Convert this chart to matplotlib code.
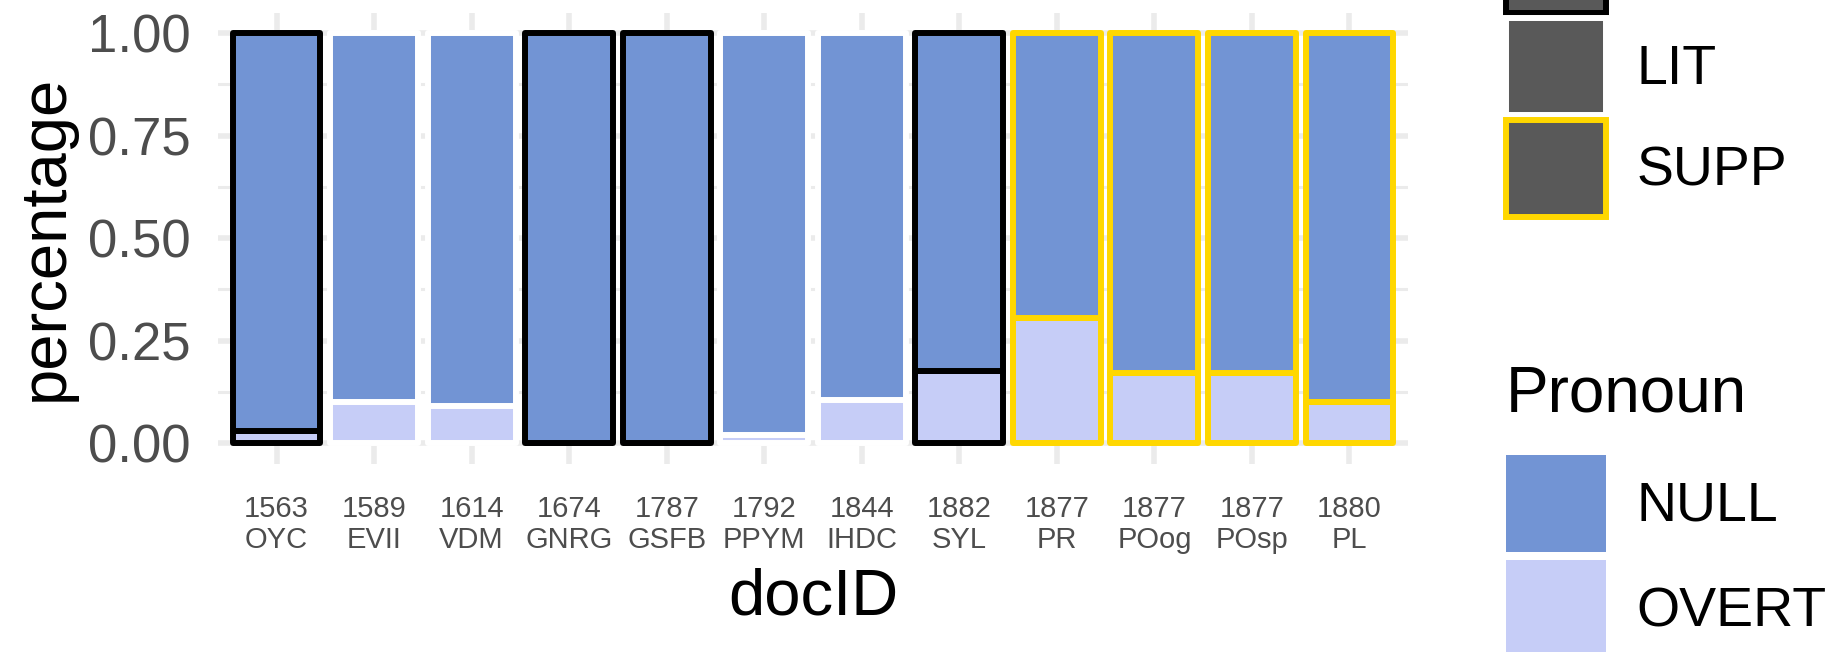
import numpy as np
import matplotlib
matplotlib.use("Agg")
import matplotlib.pyplot as plt
from matplotlib.patches import Patch

plt.rcParams['font.family'] = ['Liberation Sans', 'DejaVu Sans']

# data
years = ['1563', '1589', '1614', '1674', '1787', '1792', '1844', '1882', '1877', '1877', '1877', '1880']
docs = ['OYC', 'EVII', 'VDM', 'GNRG', 'GSFB', 'PPYM', 'IHDC', 'SYL', 'PR', 'POog', 'POsp', 'PL']
overt = [0.03, 0.10, 0.09, 0.0, 0.0, 0.02, 0.105, 0.175, 0.305, 0.17, 0.17, 0.10]
groups = ['ORIG', 'LIT', 'LIT', 'ORIG', 'ORIG', 'LIT', 'LIT', 'ORIG', 'SUPP', 'SUPP', 'SUPP', 'SUPP']

group_colors = {'ORIG': 'black', 'LIT': 'white', 'SUPP': '#FFD700'}
# the first legend entry and its title are cut off at the top of the picture
group_labels = {'ORIG': '', 'LIT': 'LIT', 'SUPP': 'SUPP'}
fill_colors = {'NULL': '#7294D4', 'OVERT': '#C6CDF7'}

overt = np.array(overt)
null = 1 - overt
x = np.arange(len(docs))
edges = [group_colors[g] for g in groups]

fig = plt.figure(figsize=(18.4, 6.52), dpi=100)
ax = fig.add_axes([0.1185, 0.2891, 0.6467, 0.6917])

lw = 4.3
bars1 = ax.bar(x, overt, width=0.9, color=fill_colors['OVERT'], edgecolor=edges, linewidth=lw, zorder=3)
bars2 = ax.bar(x, null, width=0.9, bottom=overt, color=fill_colors['NULL'], edgecolor=edges, linewidth=lw, zorder=3)
for b in list(bars1) + list(bars2):
    b.set_joinstyle('round')

ax.set_xlim(-0.6, len(docs) - 0.4)
ax.set_ylim(-0.05, 1.05)
ax.set_yticks([0, 0.25, 0.5, 0.75, 1.0])
ax.set_yticklabels(['0.00', '0.25', '0.50', '0.75', '1.00'])
ax.set_yticks([0.125, 0.375, 0.625, 0.875], minor=True)
ax.set_xticks(x)
ax.set_xticklabels([y + '\n' + d for y, d in zip(years, docs)], linespacing=1.1)

ax.grid(True, which='major', color='#EBEBEB', linewidth=4.0, zorder=0)
ax.grid(True, which='minor', axis='y', color='#EBEBEB', linewidth=2.2, zorder=0)
for s in ax.spines.values():
    s.set_visible(False)
ax.tick_params(axis='both', which='both', length=0)
ax.tick_params(axis='y', labelsize=38, labelcolor='#4D4D4D', pad=20)
ax.tick_params(axis='x', labelsize=21, labelcolor='#4D4D4D', pad=23)

ax.set_ylabel('percentage', fontsize=47)
ax.yaxis.set_label_coords(-0.145, 0.5)
ax.yaxis.label.set_va('center')
ax.set_xlabel('docID', fontsize=47)
ax.xaxis.set_label_coords(0.5, -0.298)
ax.xaxis.label.set_va('center')

# outline legend (top, partly cut off)
leg_fs = 40
handles1 = [Patch(facecolor='#595959', edgecolor=group_colors[g], linewidth=lw, joinstyle='round')
            for g in ['ORIG', 'LIT', 'SUPP']]
labels1 = [group_labels[g] for g in ['ORIG', 'LIT', 'SUPP']]
leg1 = fig.legend(handles1, labels1, loc='lower left', bbox_to_anchor=(0.8185, 1 - 217 / 652),
                  frameon=False, fontsize=leg_fs, handlelength=1.8, handleheight=2.31,
                  labelspacing=0.09, borderpad=0, borderaxespad=0, handletextpad=0.55)

# fill legend
fig.text(0.8185, 1 - 411 / 652, 'Pronoun', fontsize=46, ha='left', va='baseline')
handles2 = [Patch(facecolor=fill_colors[k], edgecolor='none') for k in ['NULL', 'OVERT']]
leg2 = fig.legend(handles2, ['NULL', 'OVERT'], loc='upper left', bbox_to_anchor=(0.8185, 1 - 455 / 652),
                  frameon=False, fontsize=leg_fs, handlelength=1.8, handleheight=2.31,
                  labelspacing=0.15, borderpad=0, borderaxespad=0, handletextpad=0.55)

fig.savefig('out.png', dpi=100)
